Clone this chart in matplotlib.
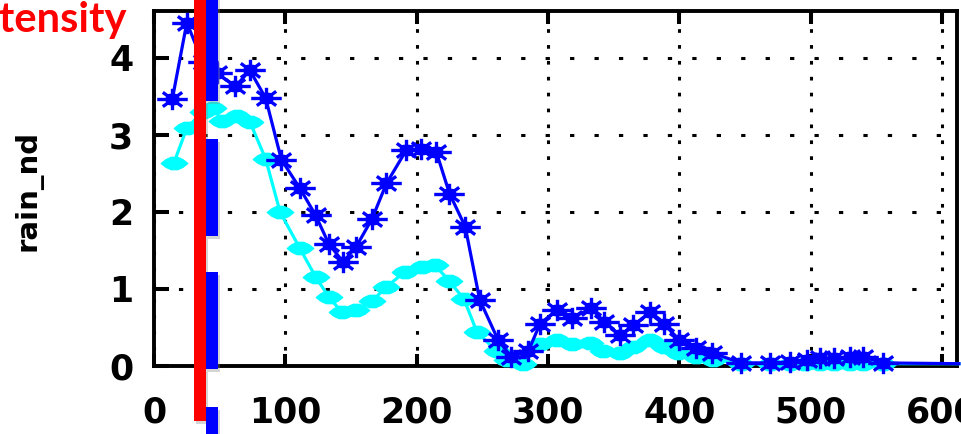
import matplotlib
matplotlib.use("Agg")
import matplotlib.pyplot as plt
from matplotlib.path import Path
from matplotlib.patches import Rectangle

# ---------------- data ----------------
blue_x = [14, 25, 37, 48, 62, 73, 85, 97, 111, 123, 133, 144, 154, 166, 177,
          192, 203, 215, 225, 237, 248, 262, 272, 285, 294, 307, 318, 333, 343,
          355, 365, 378, 388, 400, 413, 425, 447, 469, 484, 497, 507, 518, 530,
          540, 555, 613]
blue_y = [3.47, 4.46, 3.95, 3.80, 3.63, 3.84, 3.48, 2.68, 2.31, 1.96, 1.59, 1.35,
          1.55, 1.91, 2.37, 2.80, 2.82, 2.78, 2.24, 1.81, 0.86, 0.34, 0.12, 0.19,
          0.55, 0.73, 0.62, 0.75, 0.57, 0.40, 0.53, 0.70, 0.55, 0.34, 0.23, 0.17,
          0.04, 0.04, 0.05, 0.08, 0.10, 0.10, 0.12, 0.12, 0.04, 0.03]

cyan_x = [15, 25, 37, 45, 52, 63, 73, 85, 96, 111, 123, 133, 143, 154, 166, 177,
          191, 204, 214, 225, 236, 246, 261, 269, 281, 294, 307, 318, 332, 342,
          355, 365, 378, 388, 399, 413, 426, 447, 469, 484, 496, 507, 518, 530,
          540, 555, 613]
cyan_y = [2.63, 3.09, 3.30, 3.35, 3.18, 3.24, 3.17, 2.69, 2.00, 1.53, 1.16, 0.90,
          0.70, 0.73, 0.84, 1.03, 1.22, 1.29, 1.31, 1.10, 0.87, 0.44, 0.19, 0.08,
          0.03, 0.28, 0.34, 0.28, 0.30, 0.19, 0.17, 0.25, 0.34, 0.25, 0.17, 0.12,
          0.08, 0.03, 0.03, 0.03, 0.03, 0.03, 0.03, 0.03, 0.03, 0.03, 0.03]

x_ticks = [0, 100, 200, 300, 400, 500, 600]
y_ticks = [0, 1, 2, 3, 4]
y_label = "rain_nd"
title_text = "Intensity"

# ---------------- figure ----------------
W, H = 961, 434
fig = plt.figure(figsize=(W / 100, H / 100), dpi=100)
ax = fig.add_axes([154 / W, (H - 366) / H, (957 - 154) / W, (366 - 11) / H])
ax.set_xlim(0, 611.5)
ax.set_ylim(0, 4.61)

# custom markers
M, L, C = Path.MOVETO, Path.LINETO, Path.CLOSEPOLY
star_path = Path(
    [(-1.5, 0), (1.5, 0), (0, -1.05), (0, 1.05), (-0.95, -0.7), (0.95, 0.7),
     (-0.95, 0.7), (0.95, -0.7),
     (-0.6, 0), (-0.3, 0.4), (0.3, 0.4), (0.6, 0), (0.3, -0.4), (-0.3, -0.4), (0, 0)],
    [M, L, M, L, M, L, M, L, M, L, L, L, L, L, C])
plus_path = Path(
    [(-1.4, 0), (-0.9, 0.4), (-0.35, 0.65), (0.35, 0.65), (0.9, 0.4), (1.4, 0),
     (0.9, -0.4), (0.35, -0.65), (-0.35, -0.65), (-0.9, -0.4), (0, 0)],
    [M, L, L, L, L, L, L, L, L, L, C])

ax.plot(cyan_x, cyan_y, color="#00ffff", lw=2.3, marker=plus_path, ms=19,
        mfc="#00ffff", mec="#00ffff", mew=1.0, markevery=slice(0, -1),
        clip_on=False, zorder=3)
ax.plot(blue_x, blue_y, color="#0000ff", lw=2.3, marker=star_path, ms=22,
        mfc="#0000ff", mec="#0000ff", mew=2.4, markevery=slice(0, -1),
        clip_on=False, zorder=4)

# grid (dotted)
ax.xaxis.grid(True, color="black", lw=2.2, linestyle=(0, (1.2, 4.0)))
ax.yaxis.grid(True, color="black", lw=2.2, linestyle=(0, (1.4, 6.6)))
ax.set_axisbelow(True)

ax.set_xticks(x_ticks)
ax.set_yticks(y_ticks)
ax.set_xticklabels([str(v) for v in x_ticks])
ax.set_yticklabels([str(v) for v in y_ticks])
ax.tick_params(axis="x", direction="in", length=9, width=2.9, pad=21,
               top=True, labelsize=25)
ax.tick_params(axis="y", direction="in", length=11, width=2.9, pad=15,
               right=False, labelsize=25)
for lab in ax.get_xticklabels() + ax.get_yticklabels():
    lab.set_fontweight("bold")
    lab.set_family("DejaVu Sans")
for s in ax.spines.values():
    s.set_linewidth(2.8)
    s.set_color("black")

# y label
fig.text(28 / W, (H - 190) / H, y_label, rotation=90, ha="center", va="center",
         fontsize=21, fontweight="bold", family="DejaVu Sans")

# red title text (cut at the left edge)
fig.text(127 / W, (H - 32) / H, title_text, ha="right", va="baseline",
         fontsize=30, fontweight="bold", family="Lato", color="#ff0000")

# overlay bars (annotation)
def px_rect(x0, x1, ytop, ybot, color, z, alpha=1.0):
    fig.add_artist(Rectangle((x0 / W, (H - ybot) / H), (x1 - x0) / W,
                             (ybot - ytop) / H, transform=fig.transFigure,
                             facecolor=color, edgecolor="none", zorder=z,
                             alpha=alpha))

px_rect(196, 208, 3, 424, "#888888", 9, 0.35)
px_rect(194, 205.5, 0, 421, "#ff0000", 10)
for top, bot in [(-5, 101), (139, 236), (272, 369), (407, 440)]:
    px_rect(208, 220, top + 3, bot + 3, "#888888", 9, 0.35)
    px_rect(206, 218, top, bot, "#0000ff", 10)

fig.savefig("out.png", dpi=100)
